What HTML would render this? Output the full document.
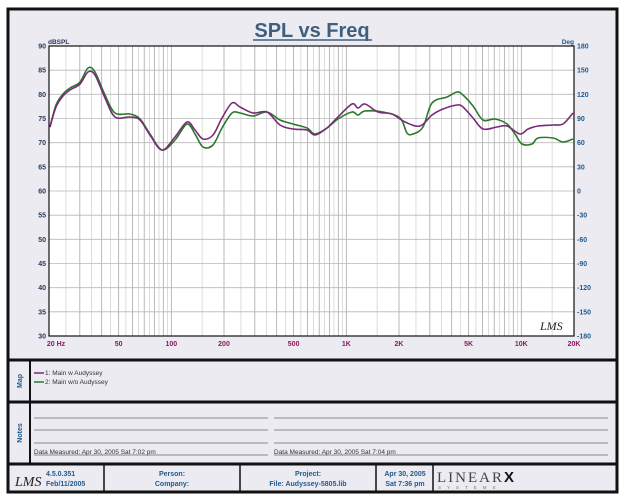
<!DOCTYPE html>
<html><head><style>
body{margin:0;background:#fff;width:624px;height:499px;overflow:hidden;font-family:"Liberation Sans",sans-serif}
</style></head><body>
<svg width="624" height="499" xmlns="http://www.w3.org/2000/svg" font-family="Liberation Sans, sans-serif">
<rect x="8" y="9" width="609" height="483" fill="#ecebf2" stroke="#111" stroke-width="3"/>
<text x="312" y="37" font-size="20" font-weight="bold" fill="#3f5f7f" text-anchor="middle">SPL vs Freq</text>
<line x1="253" y1="40" x2="372" y2="40" stroke="#3f5f7f" stroke-width="1.5"/>
<rect x="49" y="46" width="525" height="290" fill="#fff"/>
<g stroke="#b8b8b8" stroke-width="0.8" id="grid"></g>
<g font-size="7" font-weight="bold" fill="#2a3a5a" text-anchor="end" id="yl"></g>
<g font-size="7" font-weight="bold" fill="#1f5a8a" id="yr"></g>
<g font-size="7" font-weight="bold" fill="#8a1a5a" text-anchor="middle" id="xl"></g>
<text x="48" y="44" font-size="6.5" font-weight="bold" fill="#2a3a5a">dBSPL</text>
<text x="574" y="44" font-size="6.5" font-weight="bold" fill="#1f5a8a" text-anchor="end">Deg</text>
<g id="curves"></g>
<rect x="49" y="46" width="525" height="290" fill="none" stroke="#111" stroke-width="1.2"/>
<text x="540" y="330" font-size="12" font-style="italic" font-family="Liberation Serif,serif" fill="#222">LMS</text>
<line x1="8" y1="360" x2="617" y2="360" stroke="#111" stroke-width="3"/>
<line x1="8" y1="402" x2="617" y2="402" stroke="#111" stroke-width="3"/>
<line x1="8" y1="464" x2="617" y2="464" stroke="#111" stroke-width="3"/>
<line x1="30" y1="360" x2="30" y2="464" stroke="#111" stroke-width="2"/>
<text transform="translate(22,381) rotate(-90)" font-size="7" font-weight="bold" fill="#1f5a8a" text-anchor="middle">Map</text>
<text transform="translate(22,433) rotate(-90)" font-size="7" font-weight="bold" fill="#1f5a8a" text-anchor="middle">Notes</text>
<line x1="34" y1="373" x2="44" y2="373" stroke="#7a2a7a" stroke-width="1.5"/>
<line x1="34" y1="382" x2="44" y2="382" stroke="#2a7a2a" stroke-width="1.5"/>
<text x="45" y="375" font-size="6.5" fill="#333">1: Main w Audyssey</text>
<text x="45" y="384" font-size="6.5" fill="#333">2: Main w/o Audyssey</text>
<g stroke="#666" stroke-width="0.8">
<line x1="34" y1="418" x2="268" y2="418"/><line x1="274" y1="418" x2="608" y2="418"/>
<line x1="34" y1="430" x2="268" y2="430"/><line x1="274" y1="430" x2="608" y2="430"/>
<line x1="34" y1="443" x2="268" y2="443"/><line x1="274" y1="443" x2="608" y2="443"/>
<line x1="34" y1="455" x2="268" y2="455"/><line x1="274" y1="455" x2="608" y2="455"/>
</g>
<text x="34" y="454" font-size="6.5" fill="#333">Data Measured: Apr 30, 2005  Sat  7:02 pm</text>
<text x="274" y="454" font-size="6.5" fill="#333">Data Measured: Apr 30, 2005  Sat  7:04 pm</text>
<g stroke="#111" stroke-width="1.5"><line x1="104" y1="464" x2="104" y2="492"/><line x1="240" y1="464" x2="240" y2="492"/><line x1="376" y1="464" x2="376" y2="492"/><line x1="433" y1="464" x2="433" y2="492"/></g>
<text x="15" y="486" font-size="14" font-style="italic" font-family="Liberation Serif,serif" fill="#222">LMS</text>
<g font-size="7" font-weight="bold" fill="#1f5a8a">
<text x="46" y="476">4.5.0.351</text><text x="46" y="486">Feb/11/2005</text>
<text x="172" y="476" text-anchor="middle">Person:</text><text x="172" y="486" text-anchor="middle">Company:</text>
<text x="308" y="476" text-anchor="middle">Project:</text><text x="308" y="486" text-anchor="middle">File: Audyssey-5805.lib</text>
<text x="405" y="476" text-anchor="middle">Apr 30, 2005</text><text x="405" y="486" text-anchor="middle">Sat  7:36 pm</text>
</g>
<text x="437" y="482" font-size="15" font-family="Liberation Serif,serif" fill="#444" letter-spacing="2">LINEAR<tspan font-weight="bold" font-family="Liberation Sans,sans-serif" fill="#111">X</tspan></text>
<text x="438" y="489" font-size="4.5" fill="#777" letter-spacing="6">SYSTEMS</text>
</svg>
<script>
var ns="http://www.w3.org/2000/svg";
function el(p,t,a,tx){var e=document.createElementNS(ns,t);for(var k in a)e.setAttribute(k,a[k]);if(tx)e.textContent=tx;document.getElementById(p).appendChild(e);}
var x0=49,x1=574,y0=46,y1=336;
function fx(f){return x0+(Math.log10(f)-Math.log10(20))/3*(x1-x0);}
for(var d=10;d<=10000;d*=10)for(var m=1;m<10;m+=0.5){var f=d*m;if(f<20||f>20000)continue;var x=fx(f);el("grid","line",{x1:x,y1:y0,x2:x,y2:y1,stroke:(m%1==0)?"#a8a8a8":"#d4d4d4"});}
for(var i=0;i<=12;i++){var y=y0+i*(y1-y0)/12;el("grid","line",{x1:x0,y1:y,x2:x1,y2:y});el("yl","text",{x:46,y:y+2.5},String(90-5*i));el("yr","text",{x:577,y:y+2.5},String(180-30*i));}
var L=[[20,"20  Hz"],[50,"50"],[100,"100"],[200,"200"],[500,"500"],[1000,"1K"],[2000,"2K"],[5000,"5K"],[10000,"10K"],[20000,"20K"]];
L.forEach(function(l){el("xl","text",{x:fx(l[0])+(l[0]==20?7:0),y:346},l[1]);});
function smooth(s){var p=s.split(" ").map(function(a){return a.split(",").map(Number);});var d="M"+p[0];
for(var i=0;i<p.length-1;i++){var a=p[Math.max(i-1,0)],b=p[i],c=p[i+1],e=p[Math.min(i+2,p.length-1)];
d+=" C"+(b[0]+(c[0]-a[0])/6)+","+(b[1]+(c[1]-a[1])/6)+" "+(c[0]-(e[0]-b[0])/6)+","+(c[1]-(e[1]-b[1])/6)+" "+c[0]+","+c[1];}return d;}
var G="50,127 56,105 63,94 70,88 80,82 88,68 95,72 105,95 115,113 130,114 140,119 150,134 162,150 175,140 187,124 195,134 203,147 213,145 222,128 232,113 240,113 253,116 267,112 280,120 293,124 307,128 315,134 327,128 338,119 352,112 358,115 365,111 383,112 400,118 407,133 413,134 423,127 432,103 447,97 457,92 463,95 473,106 483,120 495,119 507,124 515,134 522,144 532,144 538,138 553,138 563,142 573,139";
var P="50,127 56,107 63,96 70,90 80,84 88,72 95,75 105,98 115,117 130,117 140,120 150,135 162,150 175,137 187,122 195,130 203,139 213,135 222,118 232,103 240,107 253,113 267,112 280,125 293,129 307,130 315,135 327,128 338,117 352,104 358,108 365,104 378,112 392,114 405,122 420,126 432,115 443,109 457,105 463,107 473,118 483,129 497,127 507,126 520,134 528,129 538,126 553,125 563,124 573,113";
el("curves","path",{d:smooth(G),fill:"none",stroke:"#2a7a2a","stroke-width":1.6});
el("curves","path",{d:smooth(P),fill:"none",stroke:"#7a2a7a","stroke-width":1.6});
</script>
</body></html>
